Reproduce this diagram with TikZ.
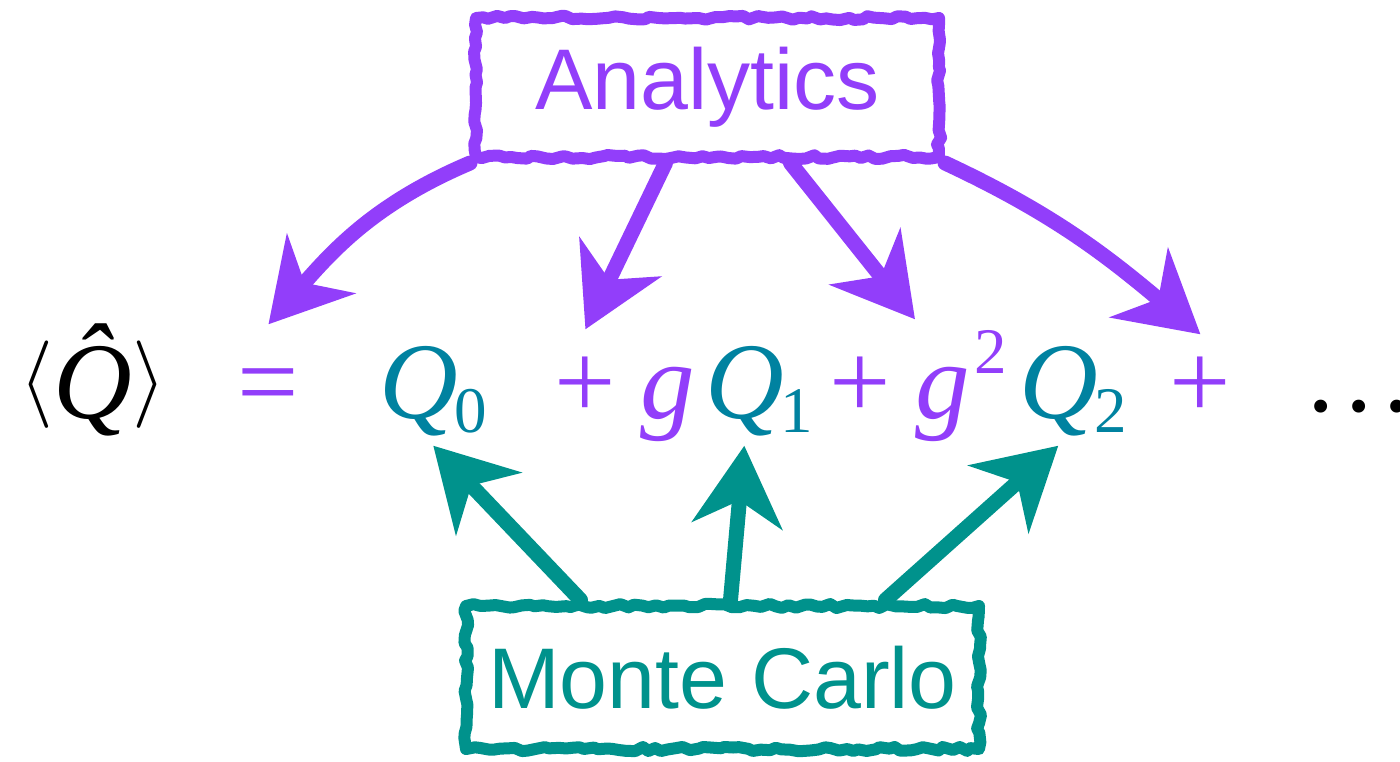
\documentclass[tikz,border=0pt]{standalone}
\usepackage{fontspec}
\usetikzlibrary{arrows.meta}
\usetikzlibrary{decorations.pathmorphing}
\newfontfamily\tms{Liberation Serif}
\newfontfamily\lbl{Liberation Sans}
\definecolor{anapurple}{RGB}{146,62,250}
\definecolor{mcteal}{RGB}{0,146,140}
\definecolor{qteal}{RGB}{0,130,160}
\newcommand{\subsc}[1]{\kern-0.4mm\raisebox{-1.4mm}{\fontsize{18.5}{20}\selectfont #1}}
\newcommand{\supsc}[1]{\kern0.4mm\raisebox{4.5mm}{\fontsize{18.5}{20}\selectfont #1}}
\newcommand{\angl}[1]{\raisebox{1.2mm}{\fontsize{24}{26}\selectfont$#1$}}
\tikzset{
  term/.style={font=\tms\fontsize{31}{33}\selectfont, inner sep=0pt, anchor=base west,
    text height=7mm, text depth=2mm},
  label box/.style={draw, line width=1.2mm, inner sep=0pt, line join=round,
    font=\lbl\fontsize{24.5}{28}\selectfont,
    decorate, decoration={random steps, segment length=2pt, amplitude=0.6pt}},
  fat arrow/.style={line width=1.5mm, line cap=round,
    -{Stealth[length=8mm,width=9mm,inset=2.5mm]}},
}

\begin{document}
\begin{tikzpicture}
  \useasboundingbox (0,0) rectangle (14,-7.61);
  % the expansion
  \node[term] (lhs) at (0.19,-4.18) {\angl{\langle}\itshape\^{Q}\upshape\angl{\rangle}};
  \node[term, anapurple] (eq) at (2.37,-4.18) {=};
  \node[term, qteal] (qzero) at (3.79,-4.18) {\itshape Q\upshape\subsc{0}};
  \node[term, anapurple] (plusA) at (5.54,-4.18) {+};
  \node[term, anapurple] (gone) at (6.4,-4.18) {\itshape g};
  \node[term, qteal] (qone) at (7.05,-4.18) {\itshape Q\upshape\subsc{1}};
  \node[term, anapurple] (plusB) at (8.29,-4.18) {+};
  \node[term, anapurple] (gtwo) at (9.15,-4.18) {\itshape g\upshape\supsc{2}};
  \node[term, qteal] (qtwo) at (10.19,-4.18) {\itshape Q\upshape\subsc{2}};
  \node[term, anapurple] (plusC) at (11.69,-4.18) {+};
  \node[term] (dots) at (13.07,-4.18) {\raisebox{0.7mm}{.\kern1.05mm.\kern1.05mm.}};

  % boxes
  \node[label box, anapurple, minimum width=4.63cm, minimum height=1.39cm] (ana) at (7.075,-0.875) {Analytics};
  \node[label box, mcteal, minimum width=5.13cm, minimum height=1.43cm] (mc) at (7.225,-6.775) {Monte Carlo};

  % analytic arrows
  \draw[fat arrow, anapurple] (ana.south west) to[out=203, in=49] ([yshift=2.3mm]eq.north);
  \draw[fat arrow, anapurple] ([xshift=-4.2mm]ana.south) -- ([yshift=1.8mm]plusA.north);
  \draw[fat arrow, anapurple] ([xshift=8.3mm]ana.south) -- ([yshift=2.8mm]gtwo.north west);
  \draw[fat arrow, anapurple] (ana.south east) to[out=-25, in=140] ([yshift=1.3mm]plusC.north);

  % monte carlo arrows
  \draw[fat arrow, mcteal] ([xshift=-14.2mm]mc.north) -- ([yshift=-0.7mm]qzero.south);
  \draw[fat arrow, mcteal] ([xshift=0.8mm]mc.north) -- ([xshift=-1.5mm,yshift=-0.7mm]qone.south);
  \draw[fat arrow, mcteal] ([xshift=16.3mm]mc.north) -- ([xshift=-1.5mm,yshift=-0.7mm]qtwo.south);
\end{tikzpicture}
\end{document}
